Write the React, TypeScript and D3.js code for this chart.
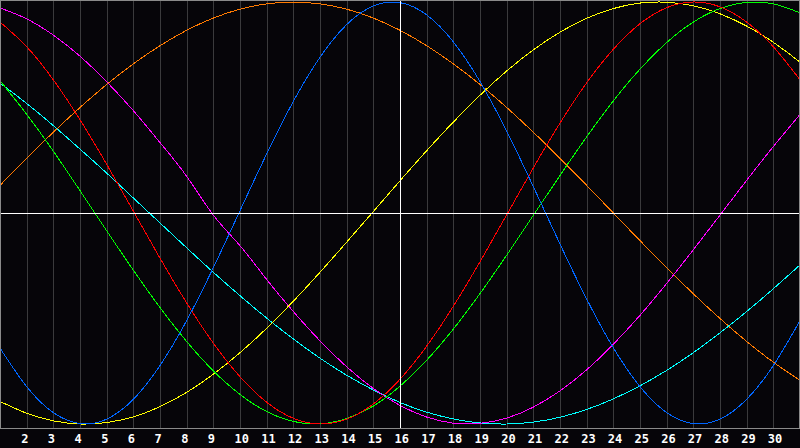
import { useEffect, useRef } from "react";
import * as d3 from "d3";

// days shown on the chart (1..31), labels for 2..30, 16 is "today"
const days = d3.range(1, 32);
const labelDays = d3.range(2, 31);
const today = 16;

// cycle values, one per day (-1..1)
const physical = [-0.64, -0.823, -0.946, -0.998, -0.977, -0.883, -0.723, -0.51, -0.259, 0.011, 0.28, 0.529, 0.738, 0.893, 0.981, 0.997, 0.939, 0.811, 0.623, 0.388, 0.125, -0.147, -0.408, -0.639, -0.823, -0.946, -0.998, -0.977, -0.883, -0.723, -0.51];
const emotional = [0.905, 0.788, 0.631, 0.442, 0.231, 0.009, -0.214, -0.426, -0.617, -0.776, -0.897, -0.973, -1.0, -0.977, -0.905, -0.788, -0.631, -0.442, -0.231, -0.009, 0.214, 0.426, 0.617, 0.776, 0.897, 0.973, 1.0, 0.977, 0.905, 0.788, 0.631];
const intellectual = [0.627, 0.468, 0.293, 0.106, -0.084, -0.271, -0.448, -0.609, -0.748, -0.86, -0.941, -0.988, -0.999, -0.974, -0.915, -0.821, -0.698, -0.55, -0.382, -0.2, -0.011, 0.178, 0.361, 0.531, 0.682, 0.808, 0.905, 0.969, 0.998, 0.991, 0.949];
const intuitive = [0.972, 0.92, 0.843, 0.743, 0.622, 0.485, 0.334, 0.174, -0.01, -0.155, -0.315, -0.467, -0.606, -0.729, -0.832, -0.912, -0.967, -0.996, -0.997, -0.972, -0.92, -0.843, -0.743, -0.622, -0.485, -0.334, -0.174, -0.01, 0.155, 0.315, 0.467];
const aesthetic = [-0.893, -0.949, -0.985, -1.0, -0.993, -0.966, -0.918, -0.85, -0.764, -0.662, -0.546, -0.418, -0.281, -0.138, 0.007, 0.153, 0.295, 0.431, 0.558, 0.673, 0.773, 0.857, 0.923, 0.969, 0.995, 0.999, 0.982, 0.944, 0.886, 0.809, 0.715];
const awareness = [0.131, 0.259, 0.383, 0.5, 0.609, 0.707, 0.793, 0.866, 0.924, 0.966, 0.991, 1.0, 0.991, 0.966, 0.924, 0.866, 0.793, 0.707, 0.609, 0.5, 0.383, 0.259, 0.131, 0.0, -0.131, -0.259, -0.383, -0.5, -0.609, -0.707, -0.793];
const spiritual = [0.616, 0.519, 0.414, 0.303, 0.189, 0.071, -0.047, -0.165, -0.281, -0.392, -0.498, -0.597, -0.688, -0.769, -0.839, -0.898, -0.944, -0.976, -0.995, -1.0, -0.991, -0.968, -0.931, -0.881, -0.819, -0.746, -0.662, -0.568, -0.467, -0.359, -0.246];

const series = [
  { name: "awareness", values: awareness, color: "#ff7a00" },
  { name: "spiritual", values: spiritual, color: "#00ffff" },
  { name: "intuitive", values: intuitive, color: "#ff00ff" },
  { name: "aesthetic", values: aesthetic, color: "#ffff00" },
  { name: "intellectual", values: intellectual, color: "#00ff00" },
  { name: "emotional", values: emotional, color: "#ff0000" },
  { name: "physical", values: physical, color: "#0066ff" },
];

const W = 800;
const H = 448;
const plotBottom = 428;

export default function App() {
  const ref = useRef<SVGSVGElement | null>(null);

  useEffect(() => {
    const svg = d3.select(ref.current!);
    svg.selectAll("*").remove();

    const x = d3.scaleLinear().domain([1, 31]).range([0, W]);
    const y = d3.scaleLinear().domain([-1, 1]).range([424, 2]);

    svg.append("rect").attr("width", W).attr("height", H).attr("fill", "#060509");

    // vertical day grid
    svg
      .append("g")
      .selectAll("line")
      .data(labelDays.filter((d) => d !== today))
      .join("line")
      .attr("x1", (d) => Math.round(x(d)) + 0.5)
      .attr("x2", (d) => Math.round(x(d)) + 0.5)
      .attr("y1", 0)
      .attr("y2", plotBottom)
      .attr("stroke", "#3a3a3c")
      .attr("stroke-width", 1)
      .attr("shape-rendering", "crispEdges");

    const line = d3
      .line<number>()
      .x((_, i) => x(days[i]))
      .y((v) => y(v))
      .curve(d3.curveNatural);

    svg
      .append("g")
      .selectAll("path")
      .data(series)
      .join("path")
      .attr("d", (s) => line(s.values))
      .attr("fill", "none")
      .attr("stroke", (s) => s.color)
      .attr("stroke-width", 1)
      .attr("shape-rendering", "crispEdges");

    // today + zero line
    svg
      .append("line")
      .attr("x1", Math.round(x(today)) + 0.5)
      .attr("x2", Math.round(x(today)) + 0.5)
      .attr("y1", 0)
      .attr("y2", plotBottom)
      .attr("stroke", "#ffffff")
      .attr("shape-rendering", "crispEdges");
    svg
      .append("line")
      .attr("x1", 0)
      .attr("x2", W)
      .attr("y1", Math.round(y(0)) + 0.5)
      .attr("y2", Math.round(y(0)) + 0.5)
      .attr("stroke", "#ffffff")
      .attr("shape-rendering", "crispEdges");

    // frame
    svg
      .append("rect")
      .attr("x", 0.5)
      .attr("y", 0.5)
      .attr("width", W - 1)
      .attr("height", plotBottom - 0.5)
      .attr("fill", "none")
      .attr("stroke", "#8a8a8a")
      .attr("shape-rendering", "crispEdges");

    svg
      .append("g")
      .selectAll("text")
      .data(labelDays)
      .join("text")
      .attr("x", (d) => x(d) - 5.5)
      .attr("y", 443)
      .style("font", "bold 12px 'DejaVu Sans Mono', monospace")
      .style("fill", "#ffffff")
      .text((d) => d);
  }, []);

  return (
    <>
      <style>{"body{margin:0;background:#060509}"}</style>
      <svg ref={ref} width={W} height={H} style={{ display: "block" }} />
    </>
  );
}
